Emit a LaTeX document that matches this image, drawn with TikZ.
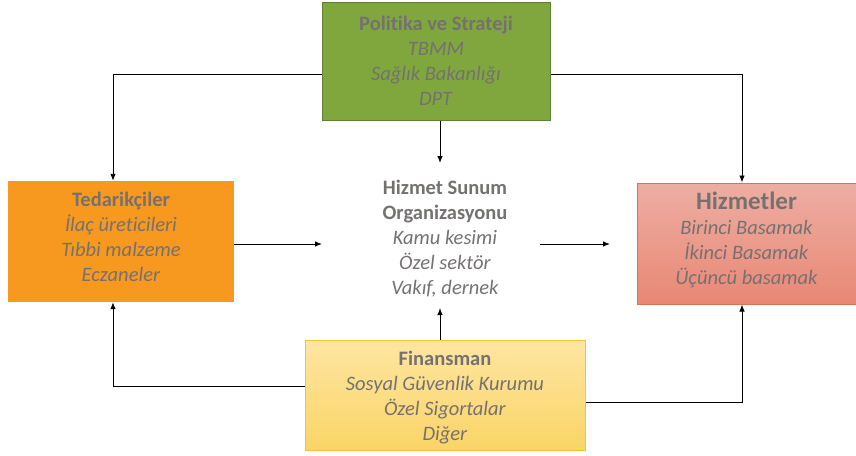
\documentclass[tikz,border=0pt]{standalone}
\usepackage{fontspec}
\setmainfont{Carlito}[Ligatures=NoCommon]
\usetikzlibrary{arrows.meta}
\definecolor{txtgray}{HTML}{767171}
\definecolor{polgreen}{HTML}{7FA73D}
\definecolor{polborder}{HTML}{5F7F33}
\definecolor{tedorange}{HTML}{F7991F}
\definecolor{hiztop}{HTML}{EDAEA2}
\definecolor{hizbot}{HTML}{E98775}
\definecolor{hizborder}{HTML}{D8705C}
\definecolor{fintop}{HTML}{FEE6A2}
\definecolor{finbot}{HTML}{FAD466}
\definecolor{finborder}{HTML}{F5C436}
\begin{document}
\begin{tikzpicture}[x=1pt,y=-1pt,
  box/.style={rectangle, inner sep=0pt, align=center, text=txtgray,
    font=\fontsize{20.5}{25}\selectfont},
  conn/.style={line width=0.9pt, black},
  arr/.style={conn, -{Latex[length=7pt,width=5.5pt]}}
]
\useasboundingbox (0,0) rectangle (856,455);

\node[box, fill=polgreen, draw=polborder, line width=1pt,
  minimum width=228pt, minimum height=118pt] (pol) at (436,61)
  {\textbf{Politika ve Strateji}\\\textit{TBMM}\\\textit{Sağlık Bakanlığı}\\\textit{DPT}};

\node[box, fill=tedorange, minimum width=226pt, minimum height=121pt] (ted) at (121,241.5) {};
\node[box] (tedtext) at (121,237)
  {\textbf{Tedarikçiler}\\\textit{İlaç üreticileri}\\\textit{Tıbbi malzeme}\\\textit{Eczaneler}};

\node[box, top color=hiztop, bottom color=hizbot, draw=hizborder, line width=1pt,
  minimum width=219pt, minimum height=121pt] (hiz) at (746.5,243.5) {};
\node[box] (hiztext) at (746.5,239.5)
  {{\fontsize{25}{27}\selectfont\textbf{Hizmetler}}\\\textit{Birinci Basamak}\\\textit{İkinci Basamak}\\\textit{Üçüncü basamak}};

\node[box, top color=fintop, bottom color=finbot, draw=finborder, line width=1pt,
  minimum width=280pt, minimum height=110pt] (fin) at (445,395) {};
\node[box] (fintext) at (445,398)
  {\textbf{Finansman}\\\textit{Sosyal Güvenlik Kurumu}\\\textit{Özel Sigortalar}\\\textit{Diğer}};

\node[box, minimum width=200pt] (hsu) at (445,239)
  {\textbf{Hizmet Sunum}\\\textbf{Organizasyonu}\\\textit{Kamu kesimi}\\\textit{Özel sektör}\\\textit{Vakıf, dernek}};

\coordinate (ytop) at (0,74);
\coordinate (ymid) at (0,244);
\coordinate (yfl) at (0,386);
\coordinate (yfr) at (0,402);
\coordinate (hsuL) at (322,244);
\coordinate (hsuR) at (540,244);
\coordinate (hizIn) at (610,244);
\coordinate (hsuT) at (440,163);
\coordinate (hsuB) at (440,308);

\draw[arr] (pol.west |- ytop) -| (ted.north -| 113,0);
\draw[arr] (pol.east |- ytop) -| (hiz.north -| 742,0);
\draw[arr] (pol.south -| hsuT) -- (hsuT);
\draw[arr] (ted.east |- ymid) -- (hsuL);
\draw[arr] (hsuR) -- (hizIn);
\draw[arr] (fin.north -| hsuB) -- (hsuB);
\draw[arr] (fin.west |- yfl) -| (ted.south -| 113,0);
\draw[arr] (fin.east |- yfr) -| (hiz.south -| 742,0);
\end{tikzpicture}
\end{document}
